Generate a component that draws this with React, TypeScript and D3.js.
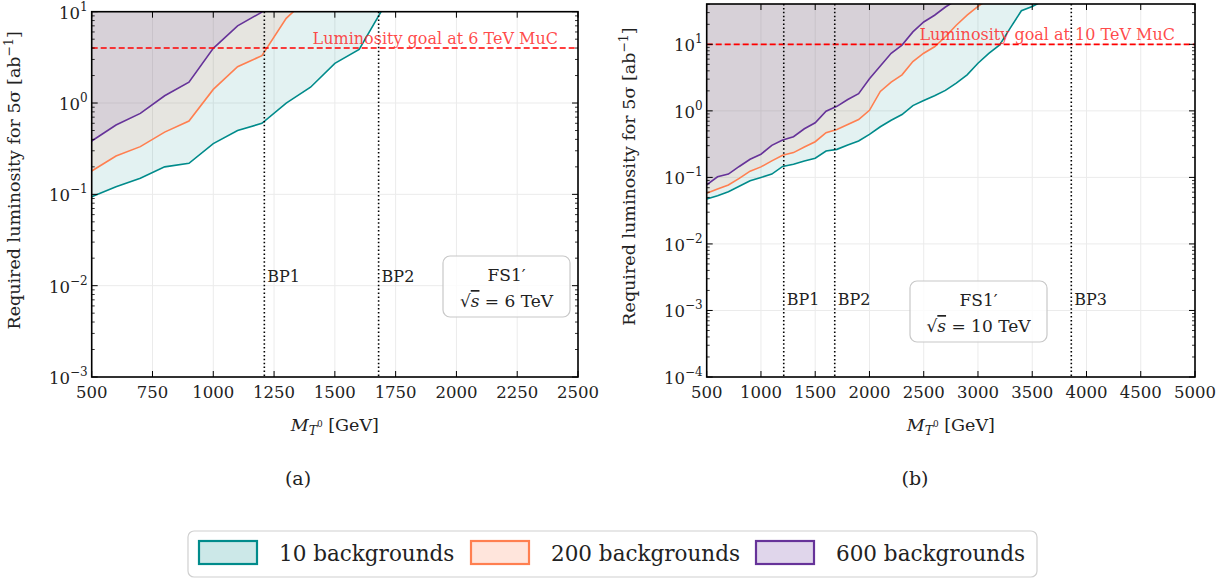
import React from 'react';
import * as d3 from 'd3';

// mass points (GeV)
const masses6 = [500, 600, 700, 800, 900, 1000, 1100, 1200, 1300, 1400, 1500, 1600, 1700];
const masses10 = [500, 600, 700, 800, 900, 1000, 1100, 1200, 1300, 1400, 1500, 1600, 1700, 1800, 1900, 2000,
  2100, 2200, 2300, 2400, 2500, 2600, 2700, 2800, 2900, 3000, 3100, 3200, 3300, 3400, 3500, 3600];

// required luminosity [ab^-1], sqrt(s) = 6 TeV
const bg10_6 = [0.094, 0.121, 0.15, 0.2, 0.219, 0.36, 0.5, 0.6, 1.0, 1.49, 2.72, 3.87, 11.1];
const bg200_6 = [0.18, 0.263, 0.333, 0.48, 0.635, 1.41, 2.5, 3.3, 8.46, 15];
const bg600_6 = [0.384, 0.574, 0.77, 1.2, 1.69, 3.97, 7.0, 9.9, 16];

// required luminosity [ab^-1], sqrt(s) = 10 TeV
const bg10_10 = [0.0474, 0.053, 0.061, 0.0734, 0.089, 0.1, 0.112, 0.146, 0.158, 0.177, 0.194, 0.249, 0.264, 0.307,
  0.352, 0.443, 0.577, 0.724, 0.88, 1.2, 1.43, 1.69, 2.03, 2.62, 3.48, 5.2, 7.3, 9.8, 17.8, 32, 37, 45];
const bg200_10 = [0.058, 0.067, 0.077, 0.0966, 0.124, 0.144, 0.177, 0.215, 0.236, 0.286, 0.344, 0.47, 0.526, 0.625,
  0.741, 1.02, 1.96, 2.71, 3.48, 5.5, 7.35, 9.2, 13, 19.4, 27.4, 37.3, 48];
const bg600_10 = [0.077, 0.102, 0.112, 0.146, 0.187, 0.223, 0.303, 0.364, 0.409, 0.539, 0.662, 0.987, 1.17, 1.48,
  1.81, 3.03, 4.74, 7.35, 9.76, 15.4, 21.7, 27.4, 36.4, 46];

const benchmarks6 = [1210, 1680];
const benchmarks10 = [1210, 1680, 3860];
const bpNames = ['BP1', 'BP2', 'BP3'];
const xTicks6 = [500, 750, 1000, 1250, 1500, 1750, 2000, 2250, 2500];
const xTicks10 = [500, 1000, 1500, 2000, 2500, 3000, 3500, 4000, 4500, 5000];

const legendNames = ['10 backgrounds', '200 backgrounds', '600 backgrounds'];
const colors = ['#008b8b', '#ff7f50', '#663399'];

const FONT = '"DejaVu Serif", serif';

function Panel({ id, left, right, top, bottom, xDomain, yDomain, xTicks, series, bps, goal, goalLabel, bpLabelY, box, sub }) {
  const x = d3.scaleLinear().domain(xDomain).range([left, right]);
  const y = d3.scaleLog().domain(yDomain).range([bottom, top]);
  const e0 = Math.round(Math.log10(yDomain[0]));
  const e1 = Math.floor(Math.log10(yDomain[1]));
  const majors = d3.range(e0, e1 + 1).map(e => Math.pow(10, e));
  const minors = [];
  d3.range(e0, e1 + 1).forEach(e => {
    for (let k = 2; k < 10; k++) {
      const v = k * Math.pow(10, e);
      if (v < yDomain[1]) minors.push(v);
    }
  });
  const area = d3.area().x(d => x(d[0])).y0(top).y1(d => y(d[1]));
  const line = d3.line().x(d => x(d[0])).y(d => y(d[1]));
  const cx = (left + right) / 2;
  return (
    <g>
      <defs>
        <clipPath id={id}>
          <rect x={left} y={top} width={right - left} height={bottom - top} />
        </clipPath>
      </defs>
      {/* grid */}
      {xTicks.map(t => <line key={'gx' + t} x1={x(t)} x2={x(t)} y1={top} y2={bottom} stroke="#ebebeb" strokeWidth={1} />)}
      {majors.map(t => <line key={'gy' + t} x1={left} x2={right} y1={y(t)} y2={y(t)} stroke="#ebebeb" strokeWidth={1} />)}
      <g clipPath={`url(#${id})`}>
        {series.map((s, i) => <path key={'a' + i} d={area(s) || ''} fill={colors[i]} fillOpacity={0.11} />)}
        {series.map((s, i) => <path key={'l' + i} d={line(s) || ''} fill="none" stroke={colors[i]} strokeWidth={1.6} />)}
        <line x1={left} x2={right} y1={y(goal)} y2={y(goal)} stroke="#ff0000" strokeWidth={1.6} strokeDasharray="6,3" />
        {bps.map(b => <line key={'bp' + b} x1={x(b)} x2={x(b)} y1={top} y2={bottom} stroke="#000" strokeWidth={1.6} strokeDasharray="1.5,2.4" />)}
      </g>
      <text x={right - 20} y={y(goal) - 4} textAnchor="end" fontFamily={FONT} fontSize={16} fill="#ff2a2a" fillOpacity={0.85}>{goalLabel}</text>
      {bps.map((b, i) => (
        <text key={'bpl' + b} x={x(b) + 3} y={bpLabelY} fontFamily={FONT} fontSize={16} fill="#222">{bpNames[i]}</text>
      ))}
      {/* info box */}
      <rect x={box.x} y={box.y} width={box.w} height={box.h} rx={7} fill="#fff" fillOpacity={0.8} stroke="#c8c8c8" strokeWidth={1.2} />
      <text x={box.x + box.w / 2} y={box.y + 25} textAnchor="middle" fontFamily={FONT} fontSize={17} fill="#222">FS1′</text>
      <text x={box.x + box.w / 2} y={box.y + 51} textAnchor="middle" fontFamily={FONT} fontSize={17} fill="#222">
        √<tspan fontStyle="italic" textDecoration="overline">s</tspan> = {box.energy} TeV
      </text>
      {/* frame */}
      <rect x={left} y={top} width={right - left} height={bottom - top} fill="none" stroke="#000" strokeWidth={1.6} />
      {xTicks.map(t => (
        <g key={'xt' + t}>
          <line x1={x(t)} x2={x(t)} y1={bottom} y2={bottom - 6} stroke="#000" strokeWidth={1} />
          <line x1={x(t)} x2={x(t)} y1={top} y2={top + 6} stroke="#000" strokeWidth={1} />
          <text x={x(t)} y={bottom + 21} textAnchor="middle" fontFamily={FONT} fontSize={16.5} fill="#222">{t}</text>
        </g>
      ))}
      {majors.map(t => (
        <g key={'yt' + t}>
          <line x1={left} x2={left + 6} y1={y(t)} y2={y(t)} stroke="#000" strokeWidth={1} />
          <line x1={right} x2={right - 6} y1={y(t)} y2={y(t)} stroke="#000" strokeWidth={1} />
          <text x={left - 4} y={y(t) + 7} textAnchor="end" fontFamily={FONT} fontSize={16.5} fill="#222">
            10<tspan dy={-8} fontSize={12}>{Math.log10(t) < 0 ? '−' + Math.round(-Math.log10(t)) : Math.round(Math.log10(t))}</tspan>
          </text>
        </g>
      ))}
      {minors.map(t => (
        <g key={'ym' + t}>
          <line x1={left} x2={left + 3} y1={y(t)} y2={y(t)} stroke="#000" strokeWidth={0.8} />
          <line x1={right} x2={right - 3} y1={y(t)} y2={y(t)} stroke="#000" strokeWidth={0.8} />
        </g>
      ))}
      {/* axis labels */}
      <text transform={`translate(${left - 72},${(top + bottom) / 2 - 14}) rotate(-90)`} textAnchor="middle" fontFamily={FONT} fontSize={17.5} fill="#222">
        Required luminosity for 5σ [ab<tspan dy={-7} fontSize={12.5}>−1</tspan><tspan dy={7}>]</tspan>
      </text>
      <text x={cx} y={bottom + 54} textAnchor="middle" fontFamily={FONT} fontSize={17.5} fill="#222">
        <tspan fontStyle="italic">M</tspan><tspan fontStyle="italic" fontSize={12.5} dy={4}>T</tspan><tspan fontSize={9} dy={-8}>0</tspan><tspan dy={4}> [GeV]</tspan>
      </text>
      <text x={sub.x} y={sub.y} textAnchor="middle" fontFamily={FONT} fontSize={19} fill="#222">{sub.label}</text>
    </g>
  );
}

export default function App() {
  const s6 = [bg10_6, bg200_6, bg600_6].map(arr => arr.map((v, i) => [masses6[i], v]));
  const s10 = [bg10_10, bg200_10, bg600_10].map(arr => arr.map((v, i) => [masses10[i], v]));
  const legendX = [199, 471, 756];
  return (
    <svg width={1229} height={579} style={{ position: 'absolute', left: 0, top: 0, background: '#fff' }}>
      <Panel id="c6" left={91.7} right={578} top={11.7} bottom={377} xDomain={[500, 2500]} yDomain={[1e-3, 10]}
        xTicks={xTicks6} series={s6} bps={benchmarks6} goal={4} goalLabel="Luminosity goal at 6 TeV MuC"
        bpLabelY={282} box={{ x: 443, y: 256, w: 127, h: 61, energy: 6 }} sub={{ x: 298, y: 485, label: '(a)' }} />
      <Panel id="c10" left={706.7} right={1195} top={4} bottom={377} xDomain={[500, 5000]} yDomain={[1e-4, 40.4]}
        xTicks={xTicks10} series={s10} bps={benchmarks10} goal={10} goalLabel="Luminosity goal at 10 TeV MuC"
        bpLabelY={305} box={{ x: 910, y: 281, w: 137, h: 61, energy: 10 }} sub={{ x: 915, y: 485, label: '(b)' }} />
      {/* legend */}
      <rect x={188} y={531} width={849} height={46} rx={6} fill="#fff" stroke="#d0d0d0" strokeWidth={1.2} />
      {legendNames.map((n, i) => (
        <g key={n}>
          <rect x={legendX[i]} y={541} width={58} height={23} fill={colors[i]} fillOpacity={0.2} stroke={colors[i]} strokeWidth={2.2} />
          <text x={legendX[i] + 80} y={561} fontFamily={FONT} fontSize={21.5} fill="#222">{n}</text>
        </g>
      ))}
    </svg>
  );
}
